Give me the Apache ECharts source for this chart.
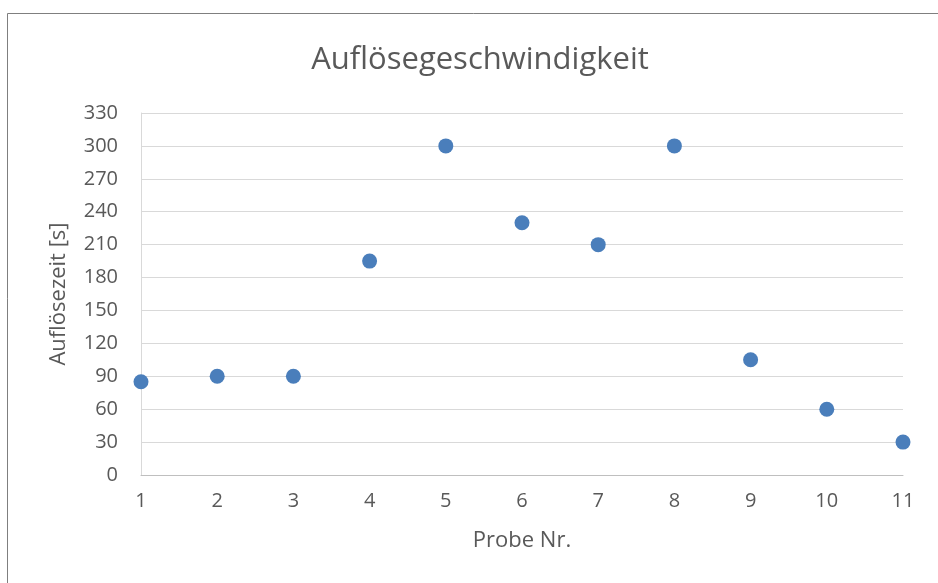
<!DOCTYPE html>
<html>
<head>
<meta charset="utf-8">
<script src="https://cdn.jsdelivr.net/npm/echarts@6/dist/echarts.min.js"></script>
<style>
  html, body { margin: 0; padding: 0; background: #fff; }
  #chart { width: 938px; height: 583px; }
</style>
</head>
<body>
<div id="chart"></div>
<script>
// Probe Nr. und Auflösezeit [s]
const proben = [1, 2, 3, 4, 5, 6, 7, 8, 9, 10, 11];
const zeiten = [85, 90, 90, 195, 300, 230, 210, 300, 105, 60, 30];
const yMax = 330;
const yStep = 30;

const font = '"Open Sans", sans-serif';
const textColor = '#595959';

const chart = echarts.init(document.getElementById('chart'));
chart.setOption({
  animation: false,
  title: {
    text: 'Auflösegeschwindigkeit',
    left: 475,
    top: 40,
    textAlign: 'center',
    textStyle: { fontFamily: font, fontSize: 31, fontWeight: 'normal', color: textColor }
  },
  graphic: [{
    type: 'polyline',
    shape: { points: [[7.5, 700], [7.5, 13.5], [1000, 13.5]] },
    style: { stroke: '#7f7f7f', lineWidth: 1, fill: null },
    silent: true
  }],
  grid: { left: 141, right: 35, top: 113, bottom: 108 },
  xAxis: {
    type: 'value',
    min: 1,
    max: 11,
    interval: 1,
    name: 'Probe Nr.',
    nameLocation: 'middle',
    nameGap: 55,
    nameTextStyle: { fontFamily: font, fontSize: 22, color: textColor },
    axisLine: { show: true, lineStyle: { color: '#bfbfbf', width: 1 } },
    axisTick: { show: false },
    splitLine: { show: false },
    axisLabel: { fontFamily: font, fontSize: 20, color: textColor, margin: 16 }
  },
  yAxis: {
    type: 'value',
    min: 0,
    max: yMax,
    interval: yStep,
    name: 'Auflösezeit [s]',
    nameLocation: 'middle',
    nameGap: 71,
    nameTextStyle: { fontFamily: font, fontSize: 22, color: textColor },
    axisLine: { show: true, lineStyle: { color: '#d9d9d9', width: 1 } },
    axisTick: { show: false },
    splitLine: { show: true, lineStyle: { color: '#d9d9d9', width: 1 } },
    axisLabel: { fontFamily: font, fontSize: 20, color: textColor, margin: 23 }
  },
  series: [{
    type: 'scatter',
    data: proben.map((p, i) => [p, zeiten[i]]),
    symbol: 'circle',
    symbolSize: 15,
    itemStyle: { color: '#4a7ebb', opacity: 1 }
  }]
});
</script>
</body>
</html>
